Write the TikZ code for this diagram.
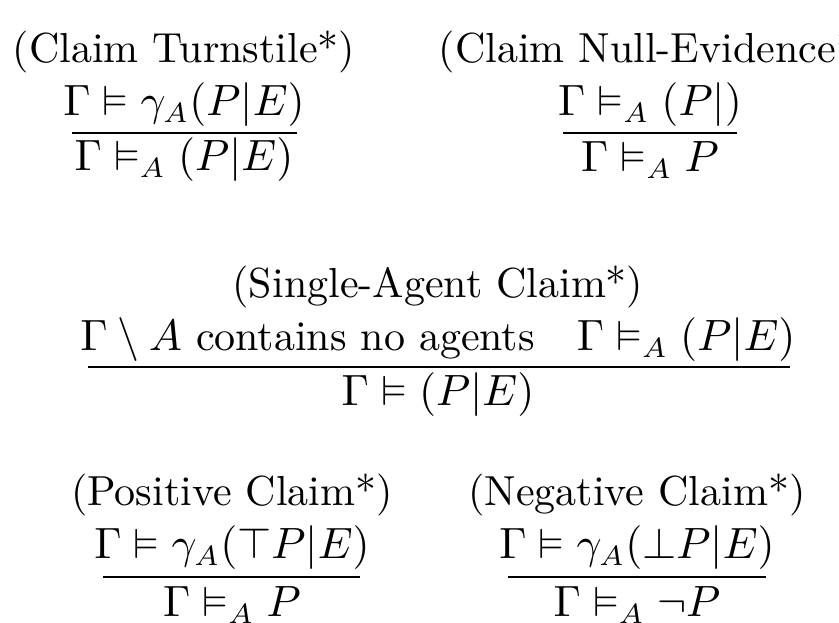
\documentclass[tikz,border=0pt]{standalone}
\usepackage{amssymb}
\begin{document}
\begin{tikzpicture}[x=0.25pt,y=-0.25pt,
  lbl/.style={inner sep=0pt,font=\fontsize{10.5}{12}\selectfont},
  rule/.style={line width=0.4pt}]
\useasboundingbox (0,0) rectangle (839,623);
\clip (0,0) rectangle (839,623);
% Claim Turnstile
\node[lbl] (t1) at (184,52) {(Claim Turnstile*)};
\node[lbl] (n1) at (184,105) {$\Gamma\vDash\gamma_A(P|E)$};
\node[lbl] (d1) at (184,160) {$\Gamma\vDash_A(P|E)$};
\coordinate (l1a) at (72,133); \coordinate (l1b) at (297,133);
\draw[rule] (l1a) -- (l1b);
% Null evidence
\node[lbl,anchor=west] (t2) at (438,52) {(Claim Null-Evidence*)};
\node[lbl] (n2) at (650,105) {$\Gamma\vDash_A(P|)$};
\node[lbl] (d2) at (650,160) {$\Gamma\vDash_A P$};
\coordinate (l2a) at (563,133); \coordinate (l2b) at (737,133);
\draw[rule] (l2a) -- (l2b);
% Single agent
\node[lbl] (t3) at (438,287) {(Single-Agent Claim*)};
\node[lbl] (n3) at (438,340) {$\Gamma\setminus A$ contains no agents\quad$\Gamma\vDash_A(P|E)$};
\node[lbl] (d3) at (438,395) {$\Gamma\vDash(P|E)$};
\coordinate (l3a) at (88,367); \coordinate (l3b) at (790,367);
\draw[rule] (l3a) -- (l3b);
% Positive
\node[lbl] (t4) at (232,495) {(Positive Claim*)};
\node[lbl] (n4) at (232,548) {$\Gamma\vDash\gamma_A(\top P|E)$};
\node[lbl] (d4) at (232,605) {$\Gamma\vDash_A P$};
\coordinate (l4a) at (103,577); \coordinate (l4b) at (360,577);
\draw[rule] (l4a) -- (l4b);
% Negative
\node[lbl] (t5) at (637,495) {(Negative Claim*)};
\node[lbl] (n5) at (637,548) {$\Gamma\vDash\gamma_A(\bot P|E)$};
\node[lbl] (d5) at (637,605) {$\Gamma\vDash_A\neg P$};
\coordinate (l5a) at (508,577); \coordinate (l5b) at (766,577);
\draw[rule] (l5a) -- (l5b);
\end{tikzpicture}
\end{document}
